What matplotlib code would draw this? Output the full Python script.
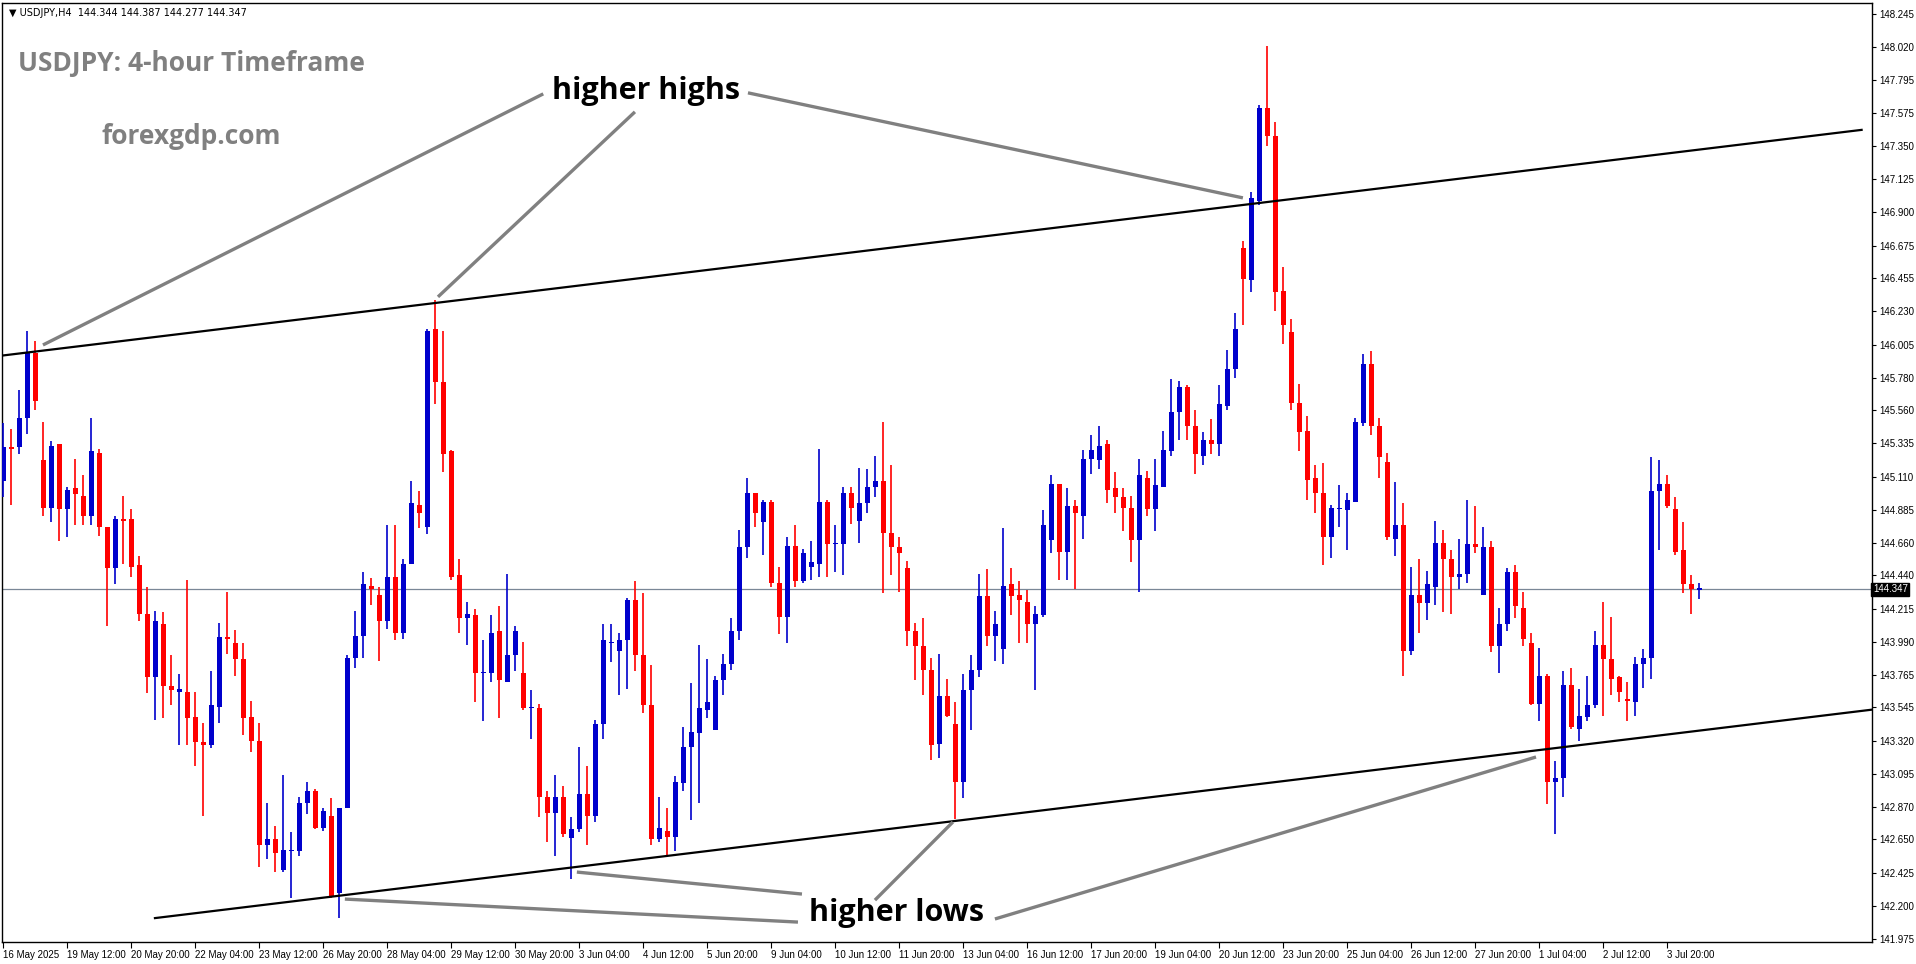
import matplotlib
matplotlib.use("Agg")
import matplotlib.pyplot as plt
import numpy as np

opens = [145.08,145.31,145.31,145.51,145.95,145.22,144.90,145.33,144.89,145.03,144.98,144.84,145.27,144.77,144.49,144.82,144.82,144.51,144.18,143.75,
144.11,143.69,143.65,143.65,143.48,143.31,143.29,143.55,144.02,143.98,143.87,143.48,143.32,142.61,142.65,142.44,142.57,142.57,142.90,142.98,
142.73,142.81,142.29,142.86,143.88,144.03,144.37,144.31,144.13,144.43,144.05,144.52,144.92,144.77,146.11,145.75,145.28,144.44,144.15,144.17,
143.78,143.78,144.06,143.72,143.90,143.78,143.54,143.54,142.94,142.83,142.94,142.66,142.72,142.96,142.81,143.43,143.98,143.93,144.00,144.27,
143.90,143.56,142.65,142.71,142.67,143.03,143.28,143.37,143.53,143.39,143.73,143.84,144.06,144.63,145.00,144.80,144.94,144.39,144.16,144.64,
144.40,144.50,144.52,144.94,144.65,144.65,145.00,144.81,144.93,145.04,145.08,144.73,144.63,144.49,144.06,143.96,143.80,143.30,143.62,143.43,
143.04,143.66,143.80,144.30,144.03,143.94,144.38,144.31,144.26,144.11,144.17,144.68,145.06,144.60,144.91,144.84,145.23,145.22,145.33,145.03,
144.97,144.90,144.68,145.10,144.89,145.04,145.28,145.55,145.72,145.45,145.25,145.36,145.33,145.59,145.84,146.66,146.44,146.98,147.61,147.42,
146.37,146.09,145.61,145.42,145.10,145.00,144.70,144.89,144.88,144.94,145.47,145.87,145.45,145.21,144.69,144.78,143.93,144.31,144.25,144.36,
144.66,144.55,144.43,144.45,144.65,144.31,144.63,143.96,144.11,144.46,144.22,143.98,143.57,143.76,143.04,143.07,143.70,143.40,143.48,143.56,
143.97,143.87,143.75,143.60,143.58,143.84,143.88,145.01,145.06,144.89,144.61,144.38,144.344]
highs = [145.47,145.43,145.70,146.10,146.03,145.48,145.35,145.33,145.04,145.23,145.12,145.51,145.30,144.77,144.84,144.98,144.89,144.57,144.36,144.20,
144.19,143.90,143.77,144.41,143.65,143.44,143.79,144.12,144.33,144.07,143.98,143.59,143.44,142.90,142.74,143.09,142.70,142.94,143.04,142.99,
142.86,142.93,142.86,143.90,144.20,144.46,144.42,144.36,144.78,144.78,144.55,145.08,145.01,146.11,146.31,146.10,145.29,144.55,144.26,144.21,
144.00,144.17,144.23,144.45,144.10,143.99,143.66,143.57,142.98,143.09,143.01,142.80,143.28,143.15,143.46,144.11,144.11,144.05,144.29,144.40,
144.32,143.83,142.94,142.86,143.08,143.41,143.71,143.97,143.87,143.76,143.91,144.15,144.75,145.10,145.00,144.95,144.95,144.50,144.70,144.78,
144.62,144.67,145.30,144.95,144.78,145.04,145.04,145.17,145.16,145.25,145.48,145.19,144.70,144.54,144.12,144.15,143.88,143.91,143.74,143.58,
143.77,143.90,144.45,144.48,144.20,144.76,144.49,144.40,144.34,144.23,144.88,145.12,145.06,145.03,144.95,145.29,145.39,145.45,145.36,145.14,
145.03,144.98,145.23,145.15,145.23,145.42,145.77,145.76,145.73,145.56,145.41,145.50,145.73,145.97,146.22,146.71,147.04,147.63,148.03,147.51,
146.53,146.18,145.74,145.52,145.19,145.20,144.92,145.05,145.00,145.51,145.94,145.96,145.51,145.27,145.07,144.93,144.50,144.55,144.47,144.81,
144.75,144.61,144.69,144.95,144.91,144.77,144.67,144.22,144.49,144.51,144.33,144.05,143.95,143.77,143.18,143.79,143.81,143.67,143.76,144.06,
144.26,144.16,143.76,143.72,143.89,143.94,145.24,145.22,145.12,144.97,144.80,144.44,144.387]
lows = [144.97,144.92,145.26,145.40,145.56,144.84,144.80,144.67,144.70,144.78,144.78,144.78,144.71,144.10,144.38,144.52,144.43,144.13,143.64,143.46,
143.47,143.56,143.29,143.29,143.15,142.81,143.27,143.44,143.91,143.76,143.36,143.24,142.46,142.52,142.43,142.43,142.25,142.54,142.82,142.72,
142.71,142.25,142.12,142.86,143.81,143.88,144.24,143.86,144.08,144.00,144.01,144.52,144.76,144.72,145.60,145.14,144.41,144.05,143.97,143.58,
143.45,143.72,143.47,143.72,143.79,143.53,143.33,142.80,142.63,142.54,142.67,142.38,142.70,142.61,142.77,143.33,143.85,143.63,143.67,143.79,
143.51,142.61,142.63,142.54,142.57,142.98,142.78,142.90,143.47,143.39,143.63,143.80,144.00,144.56,144.77,144.58,144.36,144.04,143.98,144.36,
144.39,144.41,144.43,144.43,144.46,144.44,144.79,144.66,144.86,144.97,144.32,144.44,144.33,143.96,143.73,143.63,143.19,143.20,143.48,142.79,
142.93,143.39,143.75,143.96,143.86,143.84,144.17,143.98,143.98,143.66,144.16,144.59,144.41,144.41,144.35,144.69,145.13,145.16,144.93,144.86,
144.74,144.53,144.33,144.84,144.74,145.04,145.25,145.36,145.36,145.13,145.19,145.26,145.25,145.56,145.78,146.14,146.36,146.95,147.35,146.23,
146.01,145.56,145.28,144.95,144.86,144.51,144.56,144.77,144.61,144.94,145.45,145.39,145.10,144.68,144.57,143.76,143.90,144.05,144.14,144.24,
144.19,144.18,144.35,144.39,144.59,144.31,143.92,143.78,144.06,144.15,143.96,143.56,143.45,142.89,142.69,142.94,143.40,143.32,143.45,143.54,
143.49,143.63,143.58,143.45,143.49,143.68,143.74,144.61,144.90,144.58,144.32,144.18,144.277]
closes = [145.31,145.30,145.51,145.95,145.62,144.90,145.32,144.89,145.02,144.99,144.84,145.28,144.77,144.49,144.82,144.81,144.50,144.18,143.75,144.13,
143.69,143.66,143.67,143.47,143.31,143.29,143.56,144.02,144.01,143.87,143.47,143.32,142.61,142.65,142.56,142.58,142.58,142.90,142.98,142.73,
142.84,142.26,142.86,143.88,144.03,144.38,144.35,144.13,144.43,144.05,144.52,144.93,144.86,146.10,145.75,145.26,144.43,144.15,144.18,143.78,
143.78,144.05,143.73,143.90,144.06,143.54,143.54,142.94,142.83,142.94,142.69,142.72,142.96,142.81,143.43,144.00,143.99,144.00,144.27,143.90,
143.56,142.65,142.73,142.67,143.04,143.28,143.38,143.54,143.58,143.73,143.84,144.06,144.63,145.00,144.86,144.94,144.39,144.16,144.64,144.40,
144.59,144.53,144.94,144.65,144.65,145.00,144.90,144.93,145.04,145.08,144.73,144.63,144.59,144.06,143.96,143.80,143.29,143.62,143.49,143.04,
143.66,143.80,144.30,144.03,144.11,144.37,144.30,144.27,144.11,144.18,144.78,145.06,144.60,144.91,144.86,145.23,145.29,145.32,145.02,144.97,
144.90,144.68,145.12,144.89,145.05,145.29,145.55,145.72,145.45,145.26,145.36,145.33,145.60,145.84,146.11,146.45,147.00,147.61,147.42,146.36,
146.14,145.61,145.41,145.09,145.00,144.70,144.90,144.89,144.95,145.48,145.87,145.45,145.24,144.70,144.78,143.93,144.31,144.25,144.38,144.66,
144.55,144.43,144.45,144.65,144.63,144.63,143.96,144.11,144.46,144.23,144.01,143.57,143.76,143.04,143.07,143.70,143.41,143.49,143.56,143.97,
143.87,143.74,143.65,143.59,143.84,143.88,145.01,145.06,144.91,144.60,144.38,144.35,144.347]

price_ticks = [148.245,148.020,147.795,147.575,147.350,147.125,146.900,146.675,146.455,146.230,146.005,145.780,145.560,145.335,
               145.110,144.885,144.660,144.440,144.215,143.990,143.765,143.545,143.320,143.095,142.870,142.650,142.425,142.200,141.975]
date_labels = ["16 May 2025","19 May 12:00","20 May 20:00","22 May 04:00","23 May 12:00","26 May 20:00","28 May 04:00",
               "29 May 12:00","30 May 20:00","3 Jun 04:00","4 Jun 12:00","5 Jun 20:00","9 Jun 04:00","10 Jun 12:00",
               "11 Jun 20:00","13 Jun 04:00","16 Jun 12:00","17 Jun 20:00","19 Jun 04:00","20 Jun 12:00","23 Jun 20:00",
               "25 Jun 04:00","26 Jun 12:00","27 Jun 20:00","1 Jul 04:00","2 Jul 12:00","3 Jul 20:00"]
current_price = 144.347

upper_channel = ([-0.16, 232.3], [145.93, 147.46])
lower_channel = ([18.96, 233.6], [142.117, 143.53])
high_pointers = [((67.5,147.704),(4.96,146.002)), ((78.96,147.582),(54.34,146.328)), ((93.09,147.711),(154.96,146.999))]
low_pointers = [((42.7,142.246),(99.34,142.090)), ((71.7,142.429),(99.84,142.280)),
                ((108.96,142.239),(118.7,142.768)), ((123.96,142.111),(191.6,143.209))]

W, H = 1916, 964
fig = plt.figure(figsize=(W/100, H/100), dpi=100)
ax = fig.add_axes([2/W, 1-942/H, (1872-2)/W, 939/H])
ax.set_xlim(-0.16, 233.6)
ax.set_ylim(141.955, 148.32)

o = np.array(opens); c = np.array(closes); hi = np.array(highs); lo = np.array(lows)
idx = np.arange(len(o))
up = c >= o
cols = np.where(up, '#0000CC', '#FF0000')
ax.vlines(idx, lo, hi, colors=cols, linewidth=1.2, zorder=3)
bottom = np.minimum(o, c)
height = np.maximum(np.abs(c - o), 0.008)
ax.bar(idx, height, bottom=bottom, width=0.62, color=cols, linewidth=0, zorder=4)

ax.axhline(current_price, color='#7a8797', linewidth=0.9, zorder=2)
ax.plot(*upper_channel, color='black', linewidth=1.6, zorder=5)
ax.plot(*lower_channel, color='black', linewidth=1.6, zorder=5)
for (a, b) in high_pointers + low_pointers:
    ax.plot([a[0], b[0]], [a[1], b[1]], color='#808080', linewidth=2.4, zorder=6, solid_capstyle='butt')

ax.text(80.3, 147.724, "higher highs", fontsize=22, fontweight='bold', family='Open Sans',
        ha='center', va='center', zorder=7)
ax.text(111.7, 142.151, "higher lows", fontsize=22, fontweight='bold', family='Open Sans',
        ha='center', va='center', zorder=7)

ax.text(0.0085, 0.936, "USDJPY: 4-hour Timeframe", transform=ax.transAxes, fontsize=19,
        fontweight='bold', color='#808080', family='Open Sans', va='center', ha='left')
ax.text(0.053, 0.858, "forexgdp.com", transform=ax.transAxes, fontsize=19,
        fontweight='bold', color='#808080', family='Open Sans', va='center', ha='left')
ax.text(0.004, 0.989, "\u25bc USDJPY,H4  144.344 144.387 144.277 144.347", transform=ax.transAxes,
        fontsize=7, color='black', va='center', ha='left')

lab_font = dict(family='Liberation Sans', size=7)
ax.yaxis.tick_right()
ax.set_yticks(price_ticks)
ax.set_yticklabels([f"{t:.3f}" for t in price_ticks], fontdict=lab_font)
ax.tick_params(axis='y', direction='out', length=3, width=0.8, pad=2)
ax.set_xticks([8*k for k in range(len(date_labels))])
ax.set_xticklabels(date_labels, fontdict=lab_font, ha='left')
ax.tick_params(axis='x', direction='out', length=4, width=0.8, pad=2)
for s in ax.spines.values():
    s.set_linewidth(1.0)

ax.text(1.0005, current_price, "144.347", transform=ax.get_yaxis_transform(), family='Liberation Sans',
        fontsize=7, color='white', va='center', ha='left',
        bbox=dict(boxstyle='square,pad=0.15', facecolor='black', edgecolor='black'), zorder=10, clip_on=False)

fig.savefig("out.png", dpi=100, facecolor='white')
